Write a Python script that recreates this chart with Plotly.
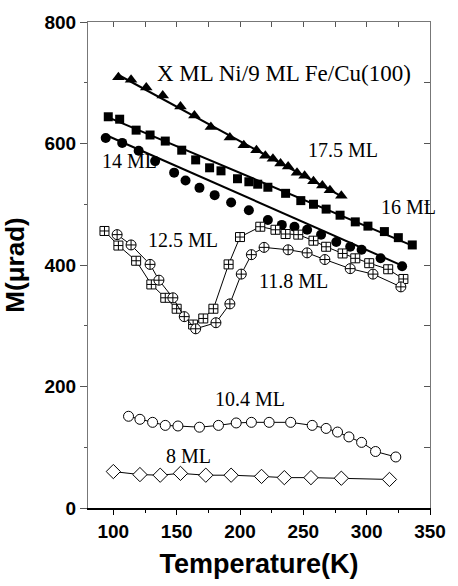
import plotly.graph_objects as go

# ---- data ----
t175 = [104, 114, 126, 139, 153, 164, 177, 192, 203, 213, 220, 226, 232, 238, 245, 251, 258, 265, 271, 280]
m175 = [709, 705, 692, 679, 661, 646, 627, 610, 597, 589, 580, 575, 567, 562, 552, 547, 538, 531, 523, 514]
fit175_t = [103, 281]
fit175_m = [714, 512]

t16 = [96, 105, 118, 129, 141, 154, 165, 176, 185, 198, 207, 214, 222, 236, 248, 258, 268, 279, 291, 301, 314, 325, 336]
m16 = [644, 640, 622, 614, 604, 589, 573, 560, 555, 542, 537, 533, 528, 518, 506, 500, 492, 482, 471, 464, 455, 445, 433]
fit16_t = [96, 336]
fit16_m = [643, 432]

t14 = [94, 107, 120, 133, 148, 157, 168, 180, 193, 207, 222, 233, 243, 253, 264, 276, 287, 296, 311, 328]
m14 = [609, 601, 588, 571, 552, 539, 527, 515, 503, 490, 474, 466, 463, 458, 450, 438, 430, 425, 411, 398]
fit14_t = [94, 328]
fit14_m = [614, 399]

t125 = [93, 104, 118, 130, 141, 150, 163, 171, 179, 191, 200, 216, 228, 236, 246, 258, 268, 281, 291, 302, 317, 329]
m125 = [456, 432, 407, 368, 346, 328, 302, 312, 328, 401, 446, 463, 458, 451, 450, 440, 430, 419, 411, 403, 393, 377]

t118 = [103, 114, 129, 136, 147, 156, 165, 181, 192, 201, 209, 219, 238, 253, 267, 287, 305, 327]
m118 = [450, 433, 401, 375, 346, 315, 295, 305, 336, 385, 417, 429, 425, 420, 409, 394, 385, 364]

t104 = [112, 121, 131, 141, 151, 168, 183, 197, 209, 223, 240, 257, 268, 277, 286, 296, 307, 323]
m104 = [151, 146, 141, 136, 135, 133, 136, 140, 141, 141, 141, 136, 131, 125, 117, 108, 93, 84]

t8 = [100, 121, 137, 153, 173, 193, 217, 235, 256, 280, 318]
m8 = [60, 55, 54, 57, 54, 54, 52, 50, 50, 49, 47]

labels = ["X ML Ni/9 ML Fe/Cu(100)", "17.5 ML", "16 ML", "14 ML", "12.5 ML", "11.8 ML", "10.4 ML", "8 ML"]
label_t = [235, 281, 333, 113, 155, 242, 208, 159]
label_m = [716, 589, 495, 571, 441, 374, 179, 86]
label_size = [23, 20, 20, 20, 20, 20, 20, 20]

x_ticks = [100, 150, 200, 250, 300, 350]
y_ticks = [0, 200, 400, 600, 800]

fig = go.Figure()

def fit(t, m):
    fig.add_trace(go.Scatter(x=t, y=m, mode="lines", line=dict(color="black", width=2),
                             showlegend=False, hoverinfo="skip"))

def pts(t, m, symbol, size, mode="markers", filled=True):
    fig.add_trace(go.Scatter(
        x=t, y=m, mode=mode, showlegend=False,
        line=dict(color="black", width=1),
        marker=dict(symbol=symbol, size=size,
                    color="black" if filled else "white",
                    line=dict(color="black", width=0 if filled else 1))))

fit(fit175_t, fit175_m)
fit(fit16_t, fit16_m)
fit(fit14_t, fit14_m)
pts(t175, m175, "triangle-up", 11)
pts(t16, m16, "square", 9)
pts(t14, m14, "circle", 10)
pts(t125, m125, "square-cross", 9, mode="lines+markers", filled=False)
pts(t118, m118, "circle-cross", 10, mode="lines+markers", filled=False)
pts(t104, m104, "circle", 10, mode="lines+markers", filled=False)
pts(t8, m8, "diamond", 11, mode="lines+markers", filled=False)

# overlay axes for the inward mirrored ticks (top and right)
fig.add_trace(go.Scatter(x=[None], y=[None], xaxis="x2", yaxis="y2", showlegend=False, hoverinfo="skip"))

for txt, tx, my, fs in zip(labels, label_t, label_m, label_size):
    fig.add_annotation(x=tx, y=my, text=txt, showarrow=False,
                       font=dict(family="Liberation Serif", size=fs, color="black"))

fig.update_layout(
    width=458, height=586,
    margin=dict(l=88, r=19, t=17, b=76),
    paper_bgcolor="white", plot_bgcolor="white",
    xaxis=dict(range=[80, 350], tickvals=x_ticks, ticktext=[f"<b>{v}</b>" for v in x_ticks],
               ticks="outside", ticklen=5, tickwidth=1,
               tickcolor="black", showline=True, linecolor="black", linewidth=1.5,
               showgrid=False, zeroline=False,
               minor=dict(dtick=25, tick0=0, ticks="outside", ticklen=3, tickcolor="black"),
               tickfont=dict(family="Liberation Sans", size=19, color="black"),
               title=dict(text="<b>Temperature(K)</b>", standoff=14,
                          font=dict(family="Liberation Sans", size=27, color="black"))),
    yaxis=dict(range=[0, 800], tickvals=y_ticks, ticktext=[f"<b>{v}</b>" for v in y_ticks],
               ticks="outside", ticklen=7, tickwidth=1,
               tickcolor="#555", showline=True, linecolor="#777", linewidth=1,
               showgrid=False, zeroline=False,
               minor=dict(dtick=100, tick0=0, ticks="outside", ticklen=3, tickcolor="#555"),
               tickfont=dict(family="Liberation Sans", size=19, color="black"),
               title=dict(text="<b>M(μrad)</b>", standoff=12,
                          font=dict(family="Liberation Sans", size=26, color="black"))),
    xaxis2=dict(range=[80, 350], overlaying="x", side="top", anchor="y", dtick=25, tick0=0,
                ticks="inside", ticklen=5, tickcolor="#555", showticklabels=False,
                showline=True, linecolor="#777", linewidth=1, showgrid=False, zeroline=False),
    yaxis2=dict(range=[0, 800], overlaying="y", side="right", anchor="x", dtick=100, tick0=0,
                ticks="inside", ticklen=6, tickcolor="#555", showticklabels=False,
                showline=True, linecolor="#777", linewidth=1, showgrid=False, zeroline=False),
)

fig.write_html("out.html")
